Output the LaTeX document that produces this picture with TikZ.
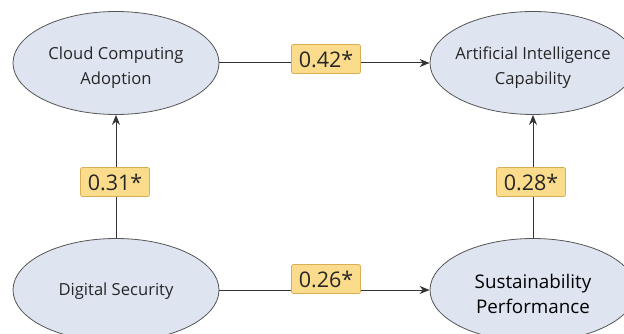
\documentclass[tikz,border=0pt]{standalone}
\usepackage{fontspec}
\setmainfont{Open Sans}
\usetikzlibrary{shapes.geometric,arrows.meta}
\definecolor{ellfill}{HTML}{DEE5F1}
\definecolor{ellline}{HTML}{555555}
\definecolor{boxfill}{HTML}{FADC8C}
\definecolor{boxline}{HTML}{D9AE55}
\tikzset{
  construct/.style={ellipse, draw=ellline, fill=ellfill, line width=0.8pt,
    minimum width=206pt, minimum height=103pt, inner sep=0pt},
  ctext/.style={label={[align=center, font=\fontsize{16.6}{25}\selectfont,
    text=black!85, yshift=-5pt]center:#1}},
  ctextone/.style={label={[align=center, font=\fontsize{16.6}{25}\selectfont,
    text=black!85, yshift=-1pt]center:#1}},
  ctextbig/.style={label={[align=center, font=\fontsize{18.8}{25}\selectfont,
    text=black, yshift=-4pt]center:#1}},
  coef/.style={draw=boxline, fill=boxfill, line width=0.8pt, rounded corners=2pt,
    minimum width=69pt, minimum height=29pt, inner sep=2pt,
    font=\fontsize{21.5}{24}\selectfont, text=black!85},
  path/.style={draw=black!80, line width=1pt},
  arr/.style={path, -{Stealth[length=10pt,width=8pt]}}
}
\begin{document}
\begin{tikzpicture}[x=1pt,y=-1pt]
\useasboundingbox (0,0) rectangle (624,334);
\clip (0,0) rectangle (624,334);
\node[construct, ctext={Cloud Computing\\Adoption}] (cca) at (116,63) {};
\node[construct, ctext={Artificial Intelligence\\Capability}] (aic) at (533,63) {};
\node[construct, ctextone={Digital Security}] (ds) at (116,290) {};
\node[construct, ctextbig={Sustainability\\Performance}] (sp) at (533,290) {};
\draw[arr] (cca) -- (aic);
\draw[arr] (ds) -- (sp);
\draw[arr] (ds) -- (cca);
\draw[arr] (sp) -- (aic);
\node[coef] (c1) at (326,59) {0.42*};
\node[coef] (c2) at (326,279) {0.26*};
\node[coef] (c3) at (115,182) {0.31*};
\node[coef] (c4) at (531,182) {0.28*};
\end{tikzpicture}
\end{document}
